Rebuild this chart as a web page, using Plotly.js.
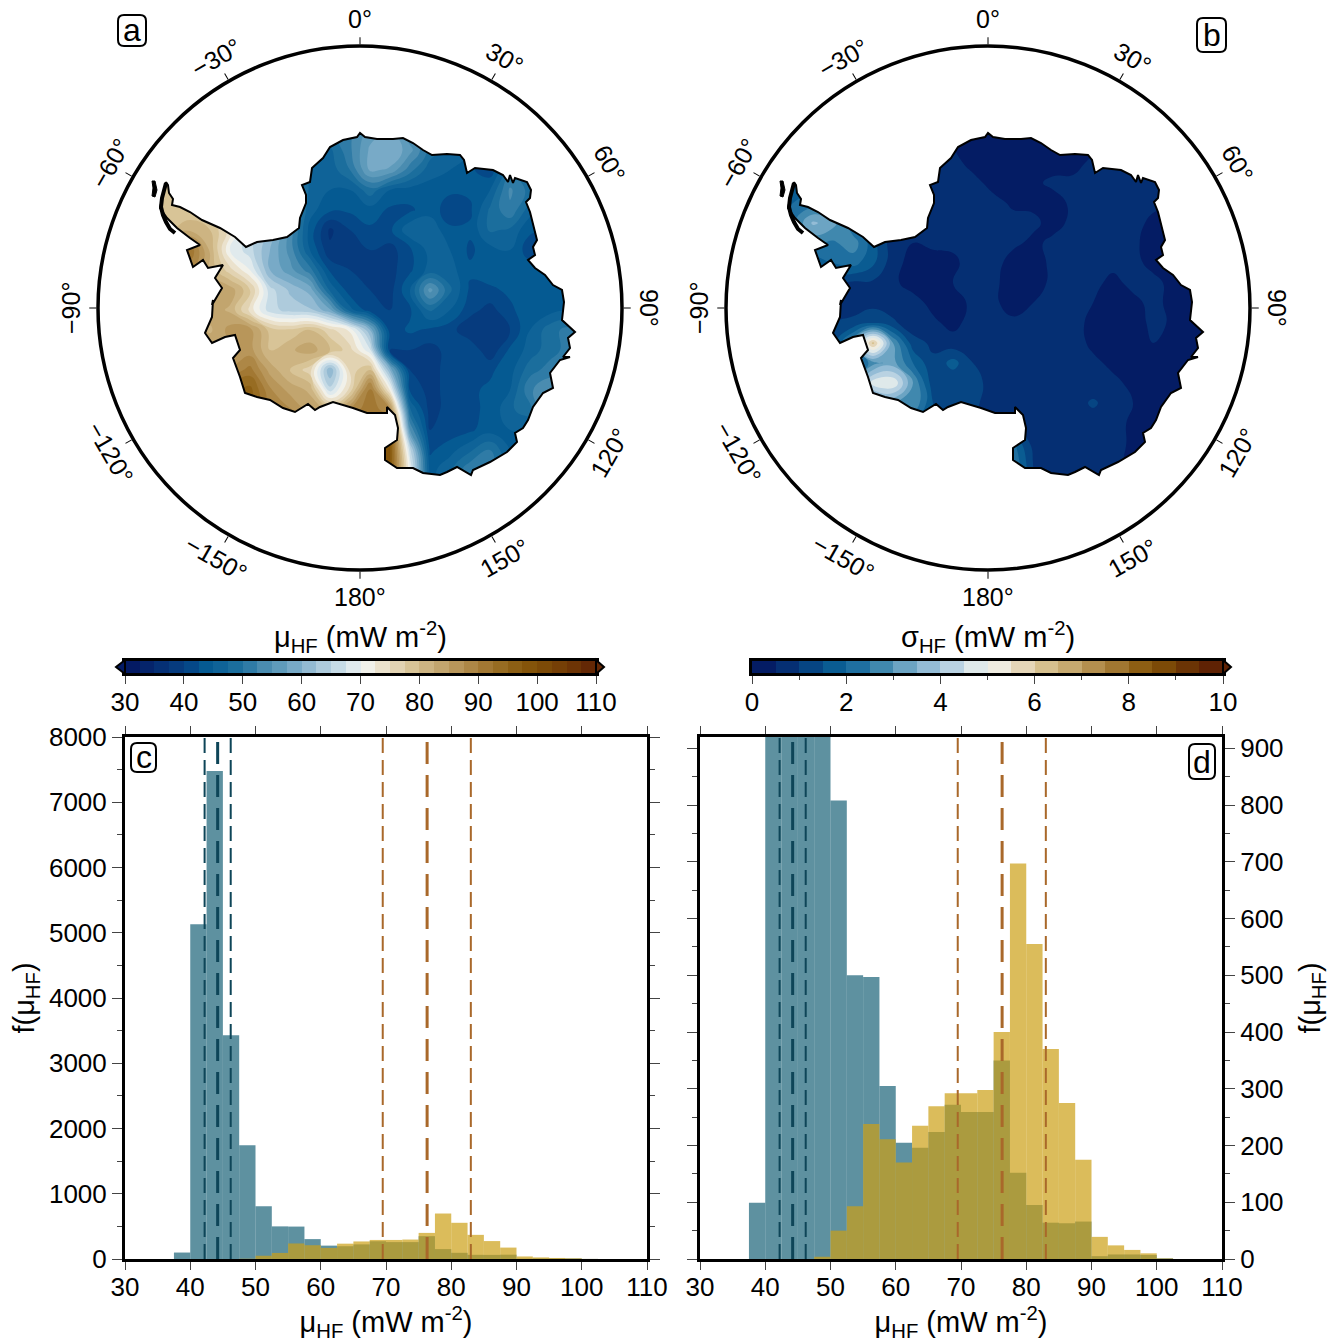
<!DOCTYPE html>
<html><head><meta charset="utf-8">
<script src="https://cdn.plot.ly/plotly-3.0.1.min.js"></script>
<style>html,body{margin:0;padding:0;background:#fff}</style></head>
<body><div id="chart" style="width:1338px;height:1342px"></div>
<script>
// ---------- data ----------
const binCenters=[38.75,41.25,43.75,46.25,48.75,51.25,53.75,56.25,58.75,61.25,63.75,66.25,68.75,71.25,73.75,76.25,78.75,81.25,83.75,86.25,88.75,91.25,93.75,96.25,98.75,101.25];
const blueCounts=[99,5130,7480,3430,1745,808,500,497,305,205,196,224,272,259,259,350,152,95,64,63,66,5,8,8,7,1];
const goldCounts=[0,0,0,0,4,50,93,238,211,170,235,269,292,292,298,400,697,555,370,275,175,39,24,16,10,1];
const blueLines=[42.2,44.2,46.2];
const brownLines=[69.5,76.3,83];
const muPalette=['#041a63','#05246b','#053075','#063b7e','#054888','#055a92','#0f6398','#1b6e9d','#2f7ba6','#4a8cb0','#5f9bbb','#78aac7','#93bad2','#aecbdc','#c6dbe6','#e0eaed','#f1f1ea','#ebe2cd','#e2d3b2','#d8c497','#cdb482','#c2a56e','#b8965a','#ad8746','#a27833','#976c22','#8c5f14','#84540a','#7c4a07','#753f06','#6d3405','#642805'];
const sigmaPalette=['#041c64','#052f73','#064583','#0a5c92','#1f6fa0','#4088ae','#6ca4c3','#94bcd6','#b9d2e2','#dfe9ea','#efece0','#e5d6b8','#d6c08e','#c6a96f','#b48f4e','#a17731','#8d5e13','#7c4a07','#6b3405','#5f2204'];
const lonTicks=[0,30,60,90,120,150,180,-150,-120,-90,-60,-30];
const lonLabels=['0°','30°','60°','90°','120°','150°','180°','−150°','−120°','−90°','−60°','−30°'];
const lonTextAngles=[0,30,60,90,-60,-30,0,30,60,-90,-60,-30];
// coast, in map units of panel a
const coastX=[166,168,169,173,172,180,190,202,220,235,246,257,273,287,299,300,306,306,302,310,312,323,330,343,357,360,365,377,393,403,413,423,432,447,460,464,467,475,493,503,508,510,513,515,527,531,530,526,530,533,537,533,535,528,535,545,553,562,564,562,562,575,568,570,563,570,560,550,553,543,533,528,523,515,517,507,490,473,471,457,447,440,423,413,397,385,385,397,398,395,387,387,367,353,333,320,315,308,295,283,270,257,245,240,233,240,235,225,212,205,212,213,212,222,215,223,208,203,193,187,200,190,177,167,160,163,166];
const coastY=[182,185,193,199,205,207,212,220,228,237,247,242,240,237,228,218,203,195,185,182,168,158,147,140,137,133,137,139,139,138,143,150,155,154,155,160,173,168,170,175,182,175,183,178,182,190,198,202,212,225,240,247,255,260,268,275,285,290,302,320,320,332,338,348,357,357,360,373,388,393,407,420,428,433,442,452,462,470,475,467,472,475,473,468,468,460,448,440,428,415,407,413,413,408,402,407,410,404,412,408,400,397,393,377,358,350,335,337,343,333,317,300,305,288,278,265,268,260,267,250,245,238,228,218,208,195,182];
const islandX=[152,155,157,155,152,153,152];
const islandY=[181,181,190,197,196,188,181];
const tipX=[166,164,162,161,163,166,170,175];
const tipY=[183,190,198,207,215,222,229,233];
// mu field
const muGridX=[150,170,190,210,230,250,270,290,310,330,350,370,390,410,430,450,470,490,510,530,550,570,590];
const muGridY=[130,150,170,190,210,230,250,270,290,310,330,350,370,390,410,430,450,470,490];
const muField=[
[80,80,80,80,78,70,62,55,50,50,52,56,58,52,48,45,45,45,45,45,45,45,45],
[80,80,80,80,78,70,62,55,50,47,52,58,60,56,49,46,45,44,45,45,45,45,45],
[80,80,80,80,78,70,62,55,47,46,50,58,57,51,46,45,43,41,49,48,45,45,45],
[80,80,78,78,76,70,62,54,47,45,45,49,45,44,44,43,43,45,53,49,44,45,45],
[78,78,78,76,72,68,60,54,46,43,43,44,42,42,44,41,42,48,52,46,42,45,45],
[80,80,82,80,74,66,62,54,44,37,40,42,42,47,47,43,43,48,47,43,42,45,45],
[88,90,92,82,70,66,60,54,45,38,39,40,39,42,46,45,42,44,45,41,42,44,44],
[85,88,88,82,76,70,60,56,51,42,40,40,39,42,46,46,43,44,44,44,44,44,44],
[85,85,85,84,84,78,66,62,59,47,41,40,39,45,56,48,42,42,43,43,44,44,44],
[85,85,85,84,82,74,66,64,63,58,46,41,40,42,48,45,41,39,42,44,44,45,45],
[85,85,85,82,86,86,79,78,80,76,72,60,41,43,42,41,38,38,40,45,49,51,51],
[85,85,85,85,84,86,80,82,84,80,76,68,40,40,39,41,42,38,43,46,49,51,51],
[85,85,85,88,88,91,84,80,76,60,76,80,60,40,39,41,41,42,44,49,51,51,51],
[90,90,90,90,94,96,88,84,82,66,76,92,72,42,39,41,42,43,45,52,55,55,55],
[95,95,95,95,96,96,90,88,84,82,88,92,88,48,39,41,42,43,47,49,55,55,55],
[98,98,98,98,98,98,98,96,94,94,94,94,98,55,40,41,42,44,45,45,45,45,45],
[98,98,98,98,98,98,98,98,98,98,98,98,98,66,42,44,47,50,45,45,45,45,45],
[98,98,98,98,98,98,98,98,98,98,98,98,98,70,44,47,52,52,45,45,45,45,45],
[98,98,98,98,98,98,98,98,98,98,98,98,98,70,44,47,52,52,45,45,45,45,45]];
// sigma field
const sigmaGridX=[145,165,185,205,225,245,265,285,305,325,345,365,385,405,425,445,465,485,505,525,545,565,585];
const sigmaGridY=[123,143,163,183,203,223,243,263,283,303,323,343,363,383,403,423,443,463,483];
const sigmaField=[
[1.5,1.5,1.5,1,.8,.7,.6,.6,.6,.5,.3,.3,.3,.3,.3,.3,.3,.3,.3,.3,.3,.3,.3],
[1.5,1.5,1.5,1,.8,.7,.6,.6,.6,.5,.4,.3,.3,.3,.3,.3,.3,.3,.4,.4,.4,.4,.4],
[1.5,1.5,1.5,1,.8,.7,.6,.6,.6,.6,.4,.3,.3,.3,.3,.35,.6,.6,.6,.6,.5,.4,.4],
[1.8,1.8,1.7,1.2,.8,.7,.6,.7,.7,.6,.6,.4,.4,.4,.6,.6,.6,.6,.7,.6,.5,.4,.4],
[1.8,2,2.2,1.8,1.2,.8,.7,.7,.65,.7,.7,.6,.45,.4,.3,.6,.7,.7,.7,.6,.5,.4,.4],
[1.8,2.4,3.6,3.2,2,1.4,.6,.6,.6,.6,.7,.7,.6,.6,.35,.6,.7,.7,.65,.4,.3,.3,.3],
[1.8,2.2,2.6,2.4,2.8,1.7,.7,.5,.6,.6,.7,.7,.6,.4,.6,.7,.7,.65,.6,.3,.3,.3,.3],
[1.5,1.5,1.6,2,2.2,1.6,.7,.3,.3,.4,.7,.7,.3,.3,.6,.7,.7,.6,.6,.4,.3,.3,.3],
[1,1,1,1,.9,.9,.6,.3,.3,.5,.7,.6,.3,.3,.6,.7,.6,.4,.6,.6,.4,.3,.3],
[.8,.8,.8,.8,.8,.8,.7,.7,.35,.3,.6,.6,.3,.5,.7,.7,.5,.3,.4,.6,.4,.3,.3],
[.9,.9,1,1,1.1,1.5,1.1,.7,.6,.35,.7,.7,.6,.7,.7,.7,.35,.3,.3,.6,.45,.3,.3],
[1,1,1,1.2,3,6.2,3,1.2,.9,.7,.7,.7,.7,.7,.7,.7,.4,.3,.3,.5,.4,.3,.3],
[1.2,1.2,1.2,1.2,1.5,2.8,3.2,2,1.1,1.7,1,.9,.8,.7,.7,.7,.6,.4,.3,.4,.3,.3,.3],
[1.2,1.2,1.2,1.5,2.5,4.8,5,3,1.2,1.1,1.2,.8,.8,.7,.7,.6,.6,.6,.4,.3,.3,.3,.3],
[1.5,1.5,1.5,1.5,2,2.5,3,3,1.5,1.2,1.1,.8,.8,.7,.7,.7,1.1,.7,.5,.3,.3,.3,.3],
[1.5,1.5,1.5,1.5,2,2,2,1.8,1.6,1.2,1,.8,.8,.7,.7,.7,.7,.7,.4,.3,.3,.3,.3],
[1.5,1.5,1.5,1.5,1.5,1.5,1.5,1.5,1.5,1.2,1,.9,2,.8,.7,.7,.7,.7,.4,.3,.3,.3,.3],
[1.5,1.5,1.5,1.5,1.5,1.5,1.5,1.5,1.5,1.2,1,1.5,2.5,1,.7,.7,.7,.6,.4,.3,.3,.3,.3],
[1.5,1.5,1.5,1.5,1.5,1.5,1.5,1.5,1.5,1.2,1,1.5,2.5,1,.7,.7,.7,.6,.4,.3,.3,.3,.3]];
const muBinEdgesStart=30, muBinSize=2.5, sigmaBinStart=0, sigmaBinSize=0.5;

// ---------- helpers ----------
const W=1338,H=1342,FONT='Liberation Sans, Arial, sans-serif';
const TICK=26,TITLE=29;
const fx=p=>p/W, fy=p=>1-p/H;
const dx=(a,b)=>[fx(a),fx(b)], dy=(top,bot)=>[fy(bot),fy(top)];
function stepScale(p){const s=[];p.forEach((c,i)=>{s.push([i/p.length,c]);s.push([(i+1)/p.length,c]);});return s;}
const muUnits='<sub>HF</sub> (mW m<sup>-2</sup>)';
const traces=[];
function mapPanel(xa,ya,gx,gy,z,pal,zmin,zmax,size,polarId){
  traces.push({type:'contour',x:gx,y:gy,z:z,xaxis:xa,yaxis:ya,colorscale:stepScale(pal),zmin:zmin,zmax:zmax,zauto:false,autocontour:false,
    contours:{coloring:'fill',showlines:false,start:zmin,end:zmax,size:size},line:{width:0,smoothing:1.3},showscale:false,hoverinfo:'skip'});
  const L=90,R=630,T=30,B=500;
  const mx=[L,R,R,L,L].concat(coastX.slice().reverse(),[L]), my=[T,T,B,B,T].concat(coastY.slice().reverse(),[T]);
  traces.push({type:'scatter',mode:'lines',x:mx,y:my,xaxis:xa,yaxis:ya,fill:'toself',fillcolor:'#ffffff',line:{width:0},hoverinfo:'skip',showlegend:false});
  traces.push({type:'scatter',mode:'lines',x:coastX,y:coastY,xaxis:xa,yaxis:ya,line:{color:'#000',width:2},hoverinfo:'skip',showlegend:false});
  traces.push({type:'scatter',mode:'lines',x:tipX,y:tipY,xaxis:xa,yaxis:ya,line:{color:'#000',width:4},hoverinfo:'skip',showlegend:false});
  traces.push({type:'scatter',mode:'lines',x:islandX,y:islandY,xaxis:xa,yaxis:ya,fill:'toself',fillcolor:'#000',line:{color:'#000',width:1},hoverinfo:'skip',showlegend:false});
  traces.push({type:'scatterpolar',subplot:polarId,r:[0],theta:[0],mode:'markers',marker:{opacity:0},hoverinfo:'skip',showlegend:false});
}
mapPanel('x','y',muGridX,muGridY,muField,muPalette,30,110,2.5,'polar');
mapPanel('x2','y2',sigmaGridX,sigmaGridY,sigmaField,sigmaPalette,0,10,0.5,'polar2');
function bar(xa,ya,pal,start,size){
  const xs=pal.map((_,i)=>start+size*(i+0.5));
  traces.push({type:'heatmap',x:xs,y:[0],z:[pal.map((_,i)=>i)],xaxis:xa,yaxis:ya,colorscale:stepScale(pal),zmin:-0.5,zmax:pal.length-0.5,showscale:false,hoverinfo:'skip'});
}
bar('x3','y3',muPalette,muBinEdgesStart,muBinSize);
bar('x4','y4',sigmaPalette,sigmaBinStart,sigmaBinSize);
function hist(xa,ya,top){
  traces.push({type:'bar',x:binCenters,y:blueCounts,width:2.5,xaxis:xa,yaxis:ya,marker:{color:'rgba(26,98,119,0.7)',line:{width:0}},hoverinfo:'skip',showlegend:false});
  traces.push({type:'bar',x:binCenters,y:goldCounts,width:2.5,xaxis:xa,yaxis:ya,marker:{color:'rgba(204,159,22,0.7)',line:{width:0}},hoverinfo:'skip',showlegend:false});
  [[blueLines,'#0e4558'],[brownLines,'#a9682a']].forEach(([vals,col])=>vals.forEach((v,i)=>{
    traces.push({type:'scatter',mode:'lines',x:[v,v],y:[0,top],xaxis:xa,yaxis:ya,hoverinfo:'skip',showlegend:false,cliponaxis:true,
      line:{color:col,width:i===1?3:2,dash:i===1?'22px,11px':'15px,7px'}});
  }));
}
hist('x5','y5',8000);
hist('x6','y6',920);

// ---------- layout ----------
const hidden={visible:false,fixedrange:true};
const histX=(dom,anchor)=>({domain:dom,anchor:anchor,range:[30,110],tickmode:'linear',tick0:30,dtick:10,ticks:'outside',ticklen:8,tickwidth:1,tickcolor:'#444',ticklabelstandoff:-5,
  showline:true,linewidth:3,linecolor:'#000',mirror:'ticks',showgrid:false,zeroline:false,
  tickfont:{size:TICK,color:'#000'},title:{text:'μ'+muUnits,font:{size:TITLE,color:'#000'},standoff:9}});
const polarCfg=(cxL)=>({domain:{x:dx(cxL,cxL+524),y:dy(46,570)},bgcolor:'rgba(0,0,0,0)',
  radialaxis:{visible:false,range:[0,1]},
  angularaxis:{direction:'clockwise',rotation:90,tickmode:'linear',tick0:0,dtick:30,ticks:'outside',ticklen:7,tickwidth:1,tickcolor:'#000',showticklabels:false,showgrid:false,linewidth:3.5,linecolor:'#000'}});
const layout={width:W,height:H,margin:{l:0,r:0,t:0,b:0},paper_bgcolor:'#fff',plot_bgcolor:'rgba(0,0,0,0)',showlegend:false,barmode:'overlay',
  font:{family:FONT,size:TICK,color:'#000'},
  xaxis:Object.assign({},hidden,{domain:dx(98,622),range:[98,622],anchor:'y'}),
  yaxis:Object.assign({},hidden,{domain:dy(46,570),range:[570,46],anchor:'x'}),
  xaxis2:Object.assign({},hidden,{domain:dx(726,1250),range:[98,622],anchor:'y2'}),
  yaxis2:Object.assign({},hidden,{domain:dy(46,570),range:[570,46],anchor:'x2'}),
  polar:polarCfg(98),polar2:polarCfg(726),
  xaxis3:{domain:dx(125,596),anchor:'y3',range:[30,110],tickmode:'linear',tick0:30,dtick:10,ticks:'outside',ticklen:8,tickwidth:1,tickcolor:'#444',ticklabelstandoff:-4,showline:true,linewidth:3,linecolor:'#000',mirror:true,showgrid:false,zeroline:false,tickfont:{size:TICK,color:'#000'}},
  yaxis3:{domain:dy(661,673),anchor:'x3',showticklabels:false,ticks:'',showline:true,linewidth:3,linecolor:'#000',mirror:true,showgrid:false,zeroline:false,range:[-0.5,0.5]},
  xaxis4:{domain:dx(752,1223),anchor:'y4',range:[0,10],tickmode:'linear',tick0:0,dtick:2,ticks:'outside',ticklen:8,tickwidth:1,tickcolor:'#444',ticklabelstandoff:-4,minor:{dtick:1,ticks:'outside',ticklen:4,tickwidth:1,tickcolor:'#444'},showline:true,linewidth:3,linecolor:'#000',mirror:true,showgrid:false,zeroline:false,tickfont:{size:TICK,color:'#000'}},
  yaxis4:{domain:dy(661,673),anchor:'x4',showticklabels:false,ticks:'',showline:true,linewidth:3,linecolor:'#000',mirror:true,showgrid:false,zeroline:false,range:[-0.5,0.5]},
  xaxis5:histX(dx(125,647),'y5'),
  yaxis5:{domain:dy(737,1259),anchor:'x5',range:[0,8000],tickmode:'linear',tick0:0,dtick:1000,ticks:'outside',ticklen:10,tickwidth:1,tickcolor:'#444',minor:{dtick:500,ticks:'outside',ticklen:5,tickwidth:1,tickcolor:'#444'},
    showline:true,linewidth:3,linecolor:'#000',mirror:'ticks',showgrid:false,zeroline:false,tickfont:{size:TICK,color:'#000'},title:{text:'f(μ<sub>HF</sub>)',font:{size:TITLE,color:'#000'},standoff:6}},
  xaxis6:histX(dx(700,1222),'y6'),
  yaxis6:{domain:dy(737,1259),anchor:'x6',side:'right',range:[0,920],tickmode:'linear',tick0:0,dtick:100,ticks:'outside',ticklen:10,tickwidth:1,tickcolor:'#444',minor:{dtick:50,ticks:'outside',ticklen:5,tickwidth:1,tickcolor:'#444'},
    showline:true,linewidth:3,linecolor:'#000',mirror:'ticks',showgrid:false,zeroline:false,tickfont:{size:TICK,color:'#000'},title:{text:'f(μ<sub>HF</sub>)',font:{size:TITLE,color:'#000'},standoff:18}},
  annotations:[],shapes:[]
};
[360,988].forEach(cx=>{
  lonTicks.forEach((t,i)=>{
    const a=t*Math.PI/180,R=289;
    layout.annotations.push({xref:'paper',yref:'paper',x:fx(cx+R*Math.sin(a)),y:fy(308-R*Math.cos(a)),text:lonLabels[i],textangle:lonTextAngles[i],showarrow:false,xanchor:'center',yanchor:'middle',font:{size:25,color:'#000'}});
  });
});
[[360,'μ'],[988,'σ']].forEach(([cx,sym])=>layout.annotations.push({xref:'paper',yref:'paper',x:fx(cx),y:fy(637),text:sym+muUnits,showarrow:false,xanchor:'center',yanchor:'middle',font:{size:TITLE,color:'#000'}}));
function roundBox(l,t,r,b,k){
  const X=fx,Y=fy;
  return {type:'path',xref:'paper',yref:'paper',line:{color:'#000',width:2},fillcolor:'#fff',layer:'above',
   path:`M${X(l+k)},${Y(t)} L${X(r-k)},${Y(t)} Q${X(r)},${Y(t)} ${X(r)},${Y(t+k)} L${X(r)},${Y(b-k)} Q${X(r)},${Y(b)} ${X(r-k)},${Y(b)} L${X(l+k)},${Y(b)} Q${X(l)},${Y(b)} ${X(l)},${Y(b-k)} L${X(l)},${Y(t+k)} Q${X(l)},${Y(t)} ${X(l+k)},${Y(t)} Z`};
}
[['a',118,15,146,46],['b',1197,18,1226,52],['c',131,743,156,772],['d',1189,744,1215,779]].forEach(([ch,l,t,r,b])=>{
  layout.shapes.push(roundBox(l,t,r,b,6));
  layout.annotations.push({xref:'paper',yref:'paper',x:fx((l+r)/2),y:fy((t+b)/2),text:ch,showarrow:false,xanchor:'center',yanchor:'middle',font:{size:32,color:'#000'}});
});
function tri(x0,xt,fill){return {type:'path',xref:'paper',yref:'paper',line:{color:'#000',width:2},fillcolor:fill,layer:'above',
  path:`M${fx(x0)},${fy(660)} L${fx(xt)},${fy(667)} L${fx(x0)},${fy(674)} Z`};}
layout.shapes.push(tri(125,116,muPalette[0]),tri(596,604,muPalette[31]),tri(1223,1231,sigmaPalette[19]));
Plotly.newPlot('chart',traces,layout,{staticPlot:true,displayModeBar:false});
</script></body></html>
